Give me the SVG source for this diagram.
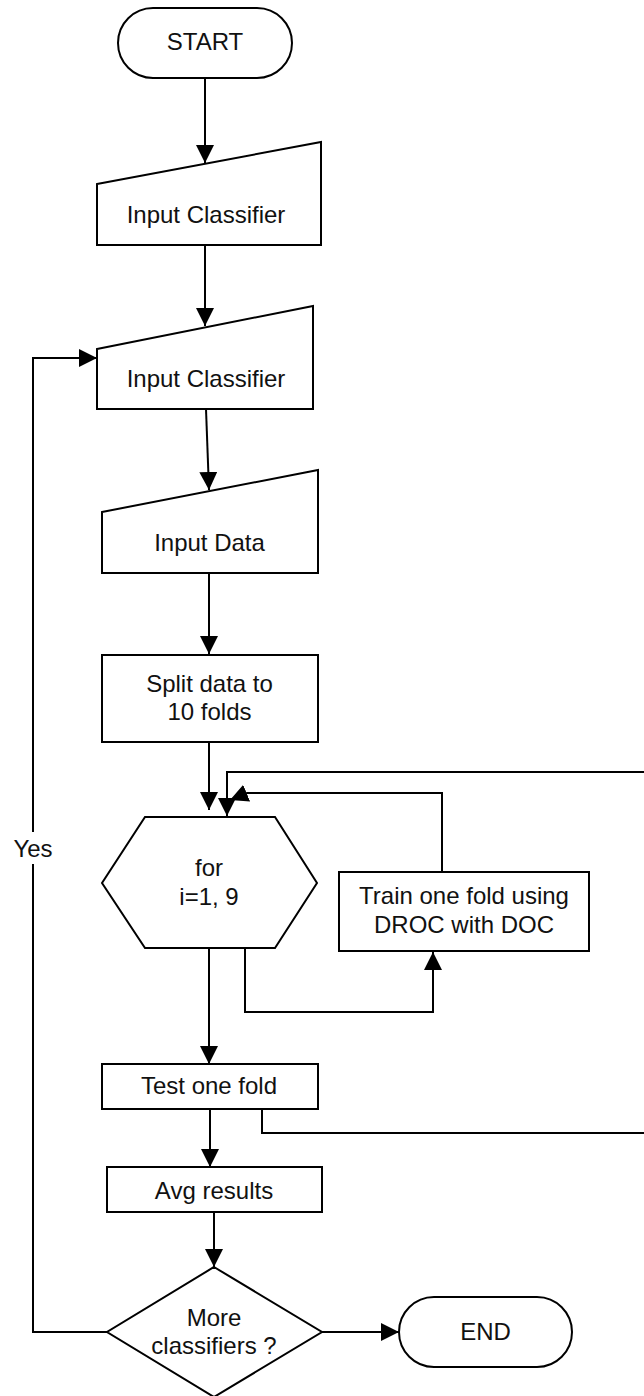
<svg xmlns="http://www.w3.org/2000/svg" width="644" height="1396" viewBox="0 0 644 1396">
<style>
.s{fill:#fff;stroke:#000;stroke-width:2}
.c{fill:none;stroke:#000;stroke-width:2}
.a{marker-end:url(#ah)}
text{font-family:"Liberation Sans",Arial,sans-serif;font-size:24px;fill:#111;text-anchor:middle}
</style>
<defs>
<marker id="ah" markerUnits="userSpaceOnUse" markerWidth="18" markerHeight="18" refX="18" refY="9" orient="auto" viewBox="0 0 18 18">
<path d="M0,0 L18,9 L0,18 z" fill="#000"/>
</marker>
</defs>
<g id="connectors">
<path class="c a" d="M205,78 V163"/>
<path class="c a" d="M205,245 V326"/>
<path class="c a" d="M206,409 L209,490"/>
<path class="c a" d="M209,573 V654"/>
<path class="c a" d="M209,742 V810"/>
<path class="c a" d="M262,1109 V1133 H650 V772 H227 V816"/>
<path class="c a" d="M442,872 V793 H247 L230,800"/>
<path class="c a" d="M245,948 V1012 H433 V952"/>
<path class="c a" d="M209,948 V1064"/>
<path class="c a" d="M210,1109 V1167"/>
<path class="c a" d="M214,1212 V1267"/>
<path class="c a" d="M322,1332 H399"/>
<path class="c" d="M107,1332 H33 V864"/>
<path class="c a" d="M33,832 V358 H97"/>
<text x="33" y="857">Yes</text>
</g>
<g id="start">
<rect class="s" x="118" y="8" width="174" height="70" rx="35" ry="35"/>
<text x="205" y="50">START</text>
</g>
<g id="input-classifier-1">
<path class="s" d="M97,184 L321,142 V245 H97 Z"/>
<text x="206" y="223">Input Classifier</text>
</g>
<g id="input-classifier-2">
<path class="s" d="M97,349 L313,306 V409 H97 Z"/>
<text x="206" y="387">Input Classifier</text>
</g>
<g id="input-data">
<path class="s" d="M102,512 L318,470 V573 H102 Z"/>
<text x="209.5" y="551">Input Data</text>
</g>
<g id="split">
<rect class="s" x="102" y="655" width="216" height="87"/>
<text x="209.5" y="692">Split data to</text>
<text x="209.5" y="720">10 folds</text>
</g>
<g id="for-loop">
<path class="s" d="M145,817 H275 L317,883 L275,948 H145 L102,883 Z"/>
<text x="209" y="876">for</text>
<text x="209" y="905">i=1, 9</text>
</g>
<g id="train">
<rect class="s" x="339" y="872" width="250" height="79"/>
<text x="464" y="904">Train one fold using</text>
<text x="464" y="933">DROC with DOC</text>
</g>
<g id="test">
<rect class="s" x="102" y="1064" width="216" height="45"/>
<text x="209" y="1094">Test one fold</text>
</g>
<g id="avg">
<rect class="s" x="107" y="1167" width="215" height="45"/>
<text x="214" y="1199">Avg results</text>
</g>
<g id="decision">
<path class="s" d="M214,1267 L322,1332 L214,1397 L107,1332 Z"/>
<text x="214" y="1326">More</text>
<text x="214" y="1354">classifiers ?</text>
</g>
<g id="end">
<rect class="s" x="399" y="1297" width="173" height="70" rx="35" ry="35"/>
<text x="485.5" y="1340">END</text>
</g>
</svg>
